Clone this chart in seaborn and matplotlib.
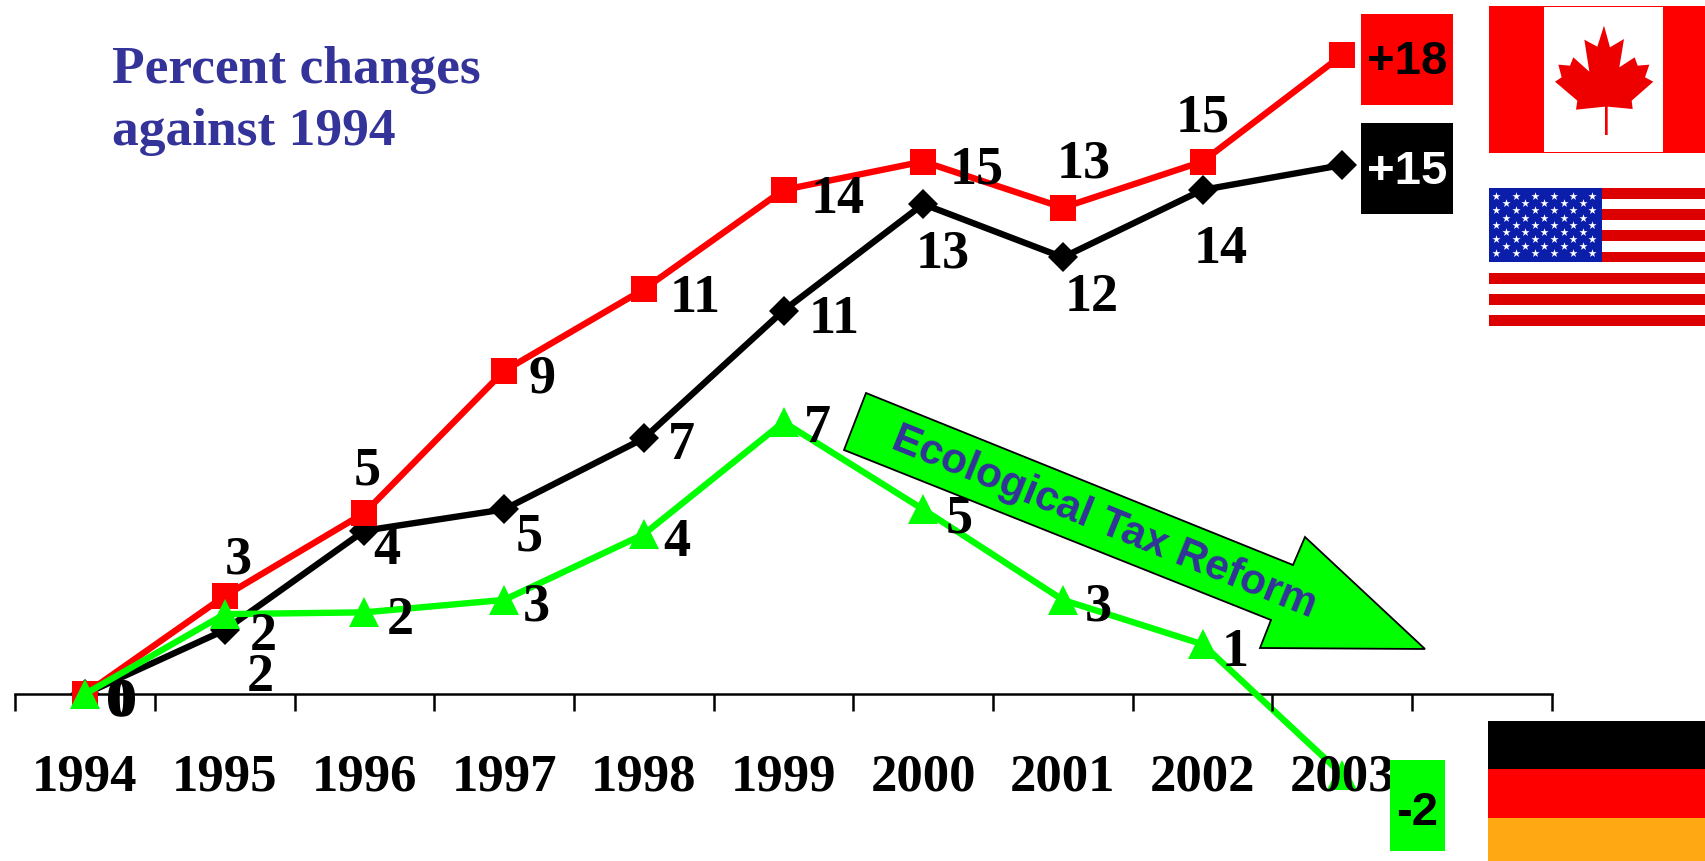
"""Percent changes against 1994 for Canada, USA and Germany, with flags and value boxes."""

import matplotlib.pyplot as plt
import pandas
import seaborn
from matplotlib.patches import Polygon, Rectangle

years = [1994, 1995, 1996, 1997, 1998, 1999, 2000, 2001, 2002, 2003]
canada = [0, 2.76, 5.1, 9.1, 11.4, 14.2, 15.0, 13.7, 15.0, 18.0]
usa = [0, 1.8, 4.6, 5.2, 7.2, 10.8, 13.8, 12.3, 14.2, 14.9]
germany = [0, 2.25, 2.3, 2.65, 4.5, 7.66, 5.2, 2.65, 1.4, -2.27]

canada_labels = ["0", "3", "5", "9", "11", "14", "15", "13", "15"]
usa_labels = ["0", "2", "4", "5", "7", "11", "13", "12", "14"]
germany_labels = ["0", "2", "2", "3", "4", "7", "5", "3", "1"]

# label offsets from their point, in pixels
canada_offsets = [(35, -8), (14, 37), (3, 42), (38, -8), (51, -9), (54, -9), (53, -8), (21, 44), (0, 44)]
usa_offsets = [(37, -8), (36, -47), (22, -19), (25, -27), (38, -7), (51, -8), (19, -49), (29, -40), (18, -59)]
germany_offsets = [(39, -8), (39, -22), (36, -8), (32, -7), (33, -8), (34, -6), (36, -9), (35, -7), (33, -8)]

WIDTH, HEIGHT = 1706, 862
X0, X_STEP = 85, 139.7  # pixel of 1994, pixels per year
Y0, Y_STEP = 695, 35.5  # pixel of the zero line, pixels per percent
INK = "#333399"
LIME = "#00ff00"
SERIF = ["Liberation Serif", "DejaVu Serif"]
SANS = ["Liberation Sans", "DejaVu Sans"]

seaborn.set_theme(style="white")
plt.rcParams["font.family"] = SERIF

fig = plt.figure(figsize=(WIDTH / 100, HEIGHT / 100), dpi=100, facecolor="white")
ax = fig.add_axes([0, 0, 1, 1], facecolor="none")

df = pandas.DataFrame(
    {
        "year": years * 3,
        "change": usa + canada + germany,
        "country": ["USA"] * 10 + ["Canada"] * 10 + ["Germany"] * 10,
    }
)
seaborn.lineplot(
    data=df,
    x="year",
    y="change",
    hue="country",
    style="country",
    hue_order=["USA", "Canada", "Germany"],
    style_order=["USA", "Canada", "Germany"],
    palette={"USA": "black", "Canada": "#ff0000", "Germany": LIME},
    markers={"USA": "D", "Canada": "s", "Germany": "^"},
    dashes=False,
    linewidth=4.6,
    markeredgewidth=0,
    legend=False,
    ax=ax,
)
for line, size in zip(ax.lines, [15, 19, 21]):
    line.set_markersize(size)

ax.set_xlim(1994 - X0 / X_STEP, 1994 + (WIDTH - X0) / X_STEP)
ax.set_ylim((Y0 - HEIGHT) / Y_STEP, Y0 / Y_STEP)
ax.set_xlabel("")
ax.set_ylabel("")
ax.set_yticks([])
ax.set_axisbelow(False)

# axis line with ticks between the years, labels on the years
for side in ["top", "left", "right"]:
    ax.spines[side].set_visible(False)
bottom = ax.spines["bottom"]
bottom.set_position(("data", 0))
bottom.set_bounds(1993.5, 2004.5)
bottom.set_linewidth(1.8)
bottom.set_color("black")
bottom.set_zorder(1)
ax.set_xticks([1993.5 + k for k in range(12)], labels=[""] * 12)
ax.set_xticks(years, labels=[str(y) for y in years], minor=True)
ax.tick_params(axis="x", which="major", bottom=True, direction="out", length=12.5, width=1.8, color="black")
ax.tick_params(axis="x", which="minor", bottom=False, length=0, pad=42, labelsize=38)
for label in ax.get_xticklabels(minor=True):
    label.set_fontweight("bold")
    label.set_color("black")

for values, labels, offsets in [
    (usa, usa_labels, usa_offsets),
    (canada, canada_labels, canada_offsets),
    (germany, germany_labels, germany_offsets),
]:
    for year, value, label, offset in zip(years, values, labels, offsets):
        ax.annotate(
            label,
            (year, value),
            xytext=offset,
            textcoords="offset pixels",
            ha="center",
            va="center",
            fontsize=39,
            fontweight="bold",
            color="black",
        )

# decorations live on a pixel-based overlay
over = fig.add_axes([0, 0, 1, 1], facecolor="none")
over.set_xlim(0, WIDTH)
over.set_ylim(HEIGHT, 0)
over.axis("off")


def box(x0, y0, x1, y1, color, **kwargs):
    over.add_patch(Rectangle((x0, y0), x1 - x0, y1 - y0, facecolor=color, edgecolor="none", **kwargs))


over.text(112, 83, "Percent changes", color=INK, fontsize=38.5, fontweight="bold", va="baseline")
over.text(112, 145, "against 1994", color=INK, fontsize=38.5, fontweight="bold", va="baseline")

# value boxes
for x0, y0, x1, y1, color, text, ink, dy in [
    (1361, 15, 1453, 106, "#ff0000", "+18", "black", 2),
    (1361, 124, 1453, 215, "black", "+15", "white", 2),
    (1390, 761, 1445, 852, LIME, "-2", "black", 7),
]:
    box(x0, y0, x1, y1, color)
    over.text(
        (x0 + x1) / 2, (y0 + y1) / 2 + dy, text, color=ink, family=SANS, fontsize=34,
        fontweight="bold", ha="center", va="center",
    )

# tax reform arrow
arrow = [(866, 394), (844, 451), (1271, 621), (1260, 649), (1425, 650), (1305, 538), (1293, 566)]
over.add_patch(Polygon(arrow, closed=True, facecolor=LIME, edgecolor="black", linewidth=1.3))
over.text(
    1104, 523, "Ecological Tax Reform", color=INK, family=SANS, fontsize=30.5, fontweight="bold",
    rotation=-22, rotation_mode="anchor", ha="center", va="center",
)

# Canada
box(1489, 7, 1706, 154, "#ff0000")
box(1544, 8, 1663, 153, "white")
leaf = [
    (792, 80), (810, 145), (852, 120), (838, 205), (884, 175), (893, 200), (928, 197), (915, 235),
    (940, 248), (875, 305), (878, 330), (803, 323), (803, 408), (795, 408), (795, 323), (708, 332),
    (712, 305), (645, 248), (665, 235), (655, 197), (690, 200), (700, 175), (748, 218), (733, 122),
    (772, 143),
]
over.add_patch(Polygon([(1340 + x / 3, y / 3) for x, y in leaf], closed=True, facecolor="#ee0000", edgecolor="none"))

# USA
stripe = (327 - 189) / 13
for k in range(13):
    box(1489, 189 + k * stripe, 1706, 189 + (k + 1) * stripe, "#dd0000" if k % 2 == 0 else "white")
box(1489, 189, 1602, 263, "#0a1eaa")
star_x, star_y = [], []
for row in range(9):
    cols = 6 if row % 2 == 0 else 5
    first = 469 if row % 2 == 0 else 498
    for col in range(cols):
        star_x.append(1340 + (first + col * 57.6) / 3)
        star_y.append((591 + row * 21.5) / 3)
over.scatter(star_x, star_y, marker="*", s=38, color="white", linewidths=0)

# Germany
box(1488, 722, 1706, 770, "black")
box(1488, 770, 1706, 819, "#ff0000")
box(1488, 819, 1706, 862, "#ffa814")

fig.savefig("out.png", dpi=100)
